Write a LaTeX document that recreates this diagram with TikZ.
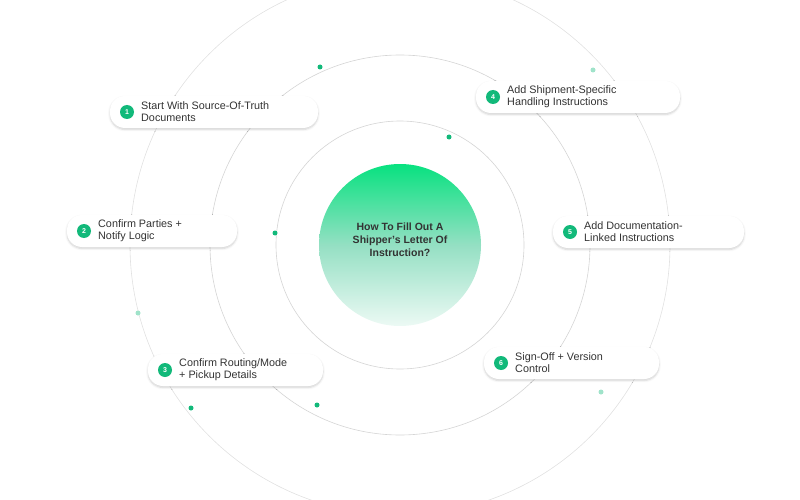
\documentclass[tikz,border=0pt]{standalone}
\usepackage{fontspec}
\setmainfont{Liberation Sans}
\usetikzlibrary{shadows.blur}
\definecolor{grn}{HTML}{12B97A}
\definecolor{ring}{HTML}{D4D4D4}
\definecolor{txt}{HTML}{333333}
\tikzset{
 x=1pt,y=-1pt,
 pill/.style={draw=none,fill=white,rounded corners=15pt,blur shadow={shadow blur steps=6,shadow xshift=0pt,shadow yshift=-1.5pt,shadow opacity=18}},
 badge/.style={circle,fill=grn,inner sep=0pt,minimum size=14pt,text=white,font=\fontsize{7}{7}\selectfont\bfseries},
 lab/.style={anchor=west,align=left,text=txt,font=\fontsize{10.8}{12}\selectfont,inner sep=0pt},
 dot/.style={circle,fill=grn,inner sep=0pt,minimum size=5pt},
 ldot/.style={circle,fill=grn!40,inner sep=0pt,minimum size=5pt}
}
\begin{document}
\begin{tikzpicture}
\useasboundingbox (0,0) rectangle (800,500);
\coordinate (c) at (400,245);
\draw[ring,line width=0.6pt] (c) circle (124);
\draw[ring,line width=0.6pt] (c) circle (190);
\draw[ring!70,line width=0.6pt] (c) circle (270);
\shade[top color=grn!60!green!70!cyan, bottom color=grn!8, middle color=grn!45] (c) circle (81);
\node[align=center,text=txt,font=\fontsize{10.5}{13}\selectfont\bfseries] (title) at (400,240) {How To Fill Out A\\Shipper's Letter Of\\Instruction?};
\node[dot] (d1) at (320,67) {};
\node[dot] (d2) at (449,137) {};
\node[dot] (d3) at (275,233) {};
\node[dot] (d4) at (317,405) {};
\node[dot] (d5) at (191,408) {};
\node[ldot] (d6) at (593,70) {};
\node[ldot] (d7) at (138,313) {};
\node[ldot] (d8) at (601,392) {};
\newcommand{\pillbox}[6]{%
 \fill[pill] (#1,#2) rectangle (#3,#2+32);
 \node[badge] (b#5) at (#1+17,#2+16) {#5};
 \node[lab] (t#5) at (#1+31,#2+16) {#6};}
\pillbox{110}{96}{318}{}{1}{Start With Source-Of-Truth\\Documents}
\pillbox{67}{215}{237}{}{2}{Confirm Parties +\\Notify Logic}
\pillbox{148}{354}{323}{}{3}{Confirm Routing/Mode\\+ Pickup Details}
\pillbox{476}{81}{680}{}{4}{Add Shipment-Specific\\Handling Instructions}
\pillbox{553}{216}{744}{}{5}{Add Documentation-\\Linked Instructions}
\pillbox{484}{347}{659}{}{6}{Sign-Off + Version\\Control}
\end{tikzpicture}
\end{document}
